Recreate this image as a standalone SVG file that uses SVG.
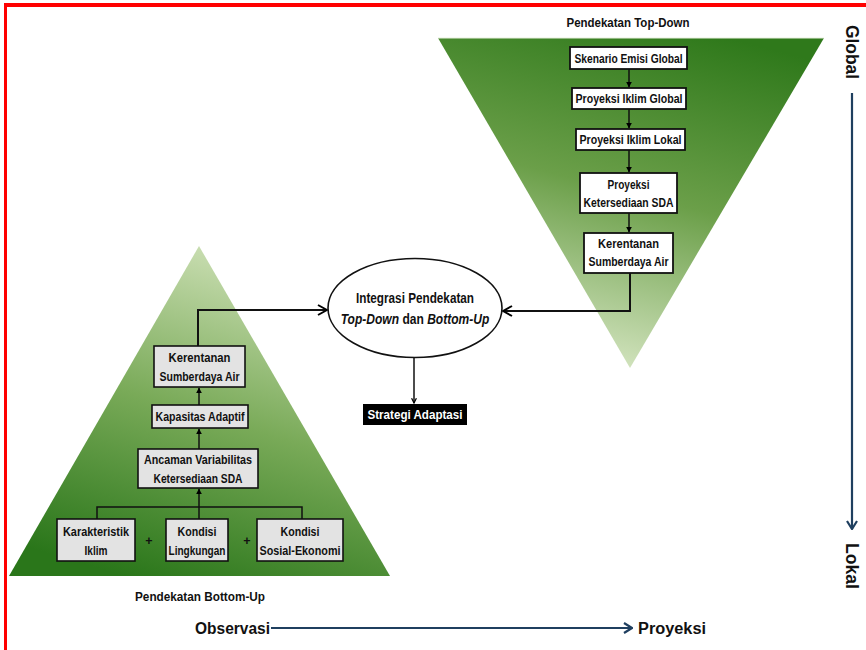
<svg xmlns="http://www.w3.org/2000/svg" width="866" height="650" viewBox="0 0 866 650">
  <defs>
    <linearGradient id="gTop" x1="0.75" y1="0" x2="0.45" y2="1">
      <stop offset="0" stop-color="#2f791b"/>
      <stop offset="0.5" stop-color="#6b9f49"/>
      <stop offset="1" stop-color="#d3e4bf"/>
    </linearGradient>
    <linearGradient id="gBottom" x1="0.65" y1="0" x2="0.3" y2="1">
      <stop offset="0" stop-color="#d0e2b9"/>
      <stop offset="0.5" stop-color="#79aa58"/>
      <stop offset="1" stop-color="#2a761a"/>
    </linearGradient>
    <marker id="tri" viewBox="0 0 10 10" refX="9" refY="5" markerWidth="4" markerHeight="4" orient="auto">
      <path d="M0,0 L10,5 L0,10 z" fill="#000"/>
    </marker>
    <marker id="vee" viewBox="0 0 10 10" refX="9" refY="5" markerWidth="6" markerHeight="6" orient="auto" markerUnits="userSpaceOnUse">
      <path d="M1,1 L9,5 L1,9" fill="none" stroke="#000" stroke-width="2"/>
    </marker>
    <marker id="veeBig" viewBox="0 0 12 12" refX="11" refY="6" markerWidth="12" markerHeight="12" orient="auto" markerUnits="userSpaceOnUse">
      <path d="M2,1 L11,6 L2,11" fill="none" stroke="#000" stroke-width="2"/>
    </marker>
    <marker id="veeAxis" viewBox="0 0 12 12" refX="11" refY="6" markerWidth="12" markerHeight="12" orient="auto" markerUnits="userSpaceOnUse">
      <path d="M3,1 L11,6 L3,11" fill="none" stroke="#1f3f5f" stroke-width="2.2"/>
    </marker>
  </defs>
  <style>
    .lbl { font-family: "Liberation Sans", Arial, sans-serif; font-weight: bold; font-size: 12.5px; text-anchor: middle; fill: #111; }
    .ell { font-family: "Liberation Sans", Arial, sans-serif; font-weight: bold; font-size: 14px; fill: #111; text-anchor: middle; }
    .title { font-family: "Liberation Sans", Arial, sans-serif; font-weight: bold; font-size: 13px; text-anchor: middle; fill: #111; }
    .axis { font-family: "Liberation Sans", Arial, sans-serif; font-weight: bold; font-size: 16px; fill: #111; }
    .axisV { font-family: "Liberation Sans", Arial, sans-serif; font-weight: bold; font-size: 18px; fill: #111; text-anchor: middle; }
    .boxW { fill: #ffffff; stroke: #111; stroke-width: 1.8; }
    .boxG { fill: #e3e3e3; stroke: #111; stroke-width: 1.6; }
    .link { fill: none; stroke: #111; stroke-width: 1.5; }
    .linkB { fill: none; stroke: #111; stroke-width: 2; }
    .axisLine { fill: none; stroke: #1f3f5f; stroke-width: 2.2; }
  </style>

  <!-- frame -->
  <rect x="4" y="3" width="862" height="4" fill="#ff0000"/>
  <rect x="4" y="3" width="3" height="647" fill="#ff0000"/>

  <!-- inverted triangle (top-down) -->
  <polygon id="tri-topdown" points="438,38 824,38 630,368" fill="url(#gTop)"/>
  <line x1="438" y1="38" x2="824" y2="38" stroke="#e8f0de" stroke-width="1"/>
  <!-- upright triangle (bottom-up) -->
  <polygon id="tri-bottomup" points="199,246 390,576 9,576" fill="url(#gBottom)"/>

  <text class="title" x="628" y="27" textLength="123" lengthAdjust="spacingAndGlyphs">Pendekatan Top-Down</text>
  <text class="title" x="200" y="601" textLength="130" lengthAdjust="spacingAndGlyphs">Pendekatan Bottom-Up</text>

  <!-- connectors -->
  <g id="connectors">
    <!-- top-down chain -->
    <line class="link" x1="629" y1="69" x2="629" y2="87" marker-end="url(#tri)"/>
    <line class="link" x1="629" y1="109" x2="629" y2="128" marker-end="url(#tri)"/>
    <line class="link" x1="629" y1="150" x2="629" y2="172" marker-end="url(#tri)"/>
    <line class="link" x1="629" y1="213" x2="629" y2="232" marker-end="url(#tri)"/>
    <!-- bottom-up chain -->
    <polyline class="link" points="97,519 97,507 302,507 302,519"/>
    <line class="link" x1="199" y1="519" x2="199" y2="489" marker-end="url(#tri)"/>
    <line class="link" x1="199" y1="449" x2="199" y2="429" marker-end="url(#tri)"/>
    <line class="link" x1="199" y1="405" x2="199" y2="388" marker-end="url(#tri)"/>
    <!-- into the integration ellipse -->
    <polyline class="linkB" points="198,346 198,310 327,310" marker-end="url(#veeBig)"/>
    <polyline class="linkB" points="630,273 630,311 503,311" marker-end="url(#veeBig)"/>
    <!-- out to strategy -->
    <line class="link" x1="414" y1="357" x2="414" y2="403" marker-end="url(#vee)"/>
    <!-- axes -->
    <line class="axisLine" x1="271" y1="628" x2="632" y2="628" marker-end="url(#veeAxis)"/>
    <line class="axisLine" x1="852" y1="93" x2="852" y2="529" marker-end="url(#veeAxis)"/>
  </g>

  <!-- top-down nodes -->
  <g id="skenario">
    <rect class="boxW" x="570" y="47" width="117" height="22"/>
    <text class="lbl" x="628.5" y="62.5" textLength="108" lengthAdjust="spacingAndGlyphs">Skenario Emisi Global</text>
  </g>
  <g id="iklim-global">
    <rect class="boxW" x="572" y="88" width="114" height="21"/>
    <text class="lbl" x="629" y="103" textLength="107" lengthAdjust="spacingAndGlyphs">Proyeksi Iklim Global</text>
  </g>
  <g id="iklim-lokal">
    <rect class="boxW" x="576" y="129" width="109" height="21"/>
    <text class="lbl" x="630.5" y="144" textLength="102" lengthAdjust="spacingAndGlyphs">Proyeksi Iklim Lokal</text>
  </g>
  <g id="ketersediaan">
    <rect class="boxW" x="580" y="173" width="97" height="40"/>
    <text class="lbl" x="628.5" y="189" textLength="42" lengthAdjust="spacingAndGlyphs">Proyeksi</text>
    <text class="lbl" x="628.5" y="207" textLength="90" lengthAdjust="spacingAndGlyphs">Ketersediaan SDA</text>
  </g>
  <g id="kerentanan-td">
    <rect class="boxW" x="584" y="233" width="89" height="40"/>
    <text class="lbl" x="628.5" y="248" textLength="61" lengthAdjust="spacingAndGlyphs">Kerentanan</text>
    <text class="lbl" x="628.5" y="266" textLength="80" lengthAdjust="spacingAndGlyphs">Sumberdaya Air</text>
  </g>

  <!-- integration node -->
  <g id="integrasi">
    <ellipse cx="415" cy="308" rx="87" ry="49.5" fill="#fff" stroke="#111" stroke-width="1.6"/>
    <text class="ell" x="415" y="303" textLength="118" lengthAdjust="spacingAndGlyphs">Integrasi Pendekatan</text>
    <text class="ell" transform="translate(415,324) scale(0.86,1)" x="0" y="0"><tspan font-style="italic">Top-Down</tspan> dan <tspan font-style="italic">Bottom-Up</tspan></text>
  </g>

  <g id="strategi">
    <rect x="363" y="404" width="104" height="21" fill="#000"/>
    <text class="lbl" x="415" y="419" style="fill:#fff" textLength="95" lengthAdjust="spacingAndGlyphs">Strategi Adaptasi</text>
  </g>

  <!-- bottom-up nodes -->
  <g id="kerentanan-bu">
    <rect class="boxG" x="154" y="346" width="91" height="41"/>
    <text class="lbl" x="199.5" y="362" textLength="62" lengthAdjust="spacingAndGlyphs">Kerentanan</text>
    <text class="lbl" x="199.5" y="381" textLength="80" lengthAdjust="spacingAndGlyphs">Sumberdaya Air</text>
  </g>
  <g id="kapasitas">
    <rect class="boxG" x="152" y="405" width="96" height="23"/>
    <text class="lbl" x="200" y="421" textLength="89" lengthAdjust="spacingAndGlyphs">Kapasitas Adaptif</text>
  </g>
  <g id="ancaman">
    <rect class="boxG" x="138" y="449" width="120" height="39"/>
    <text class="lbl" x="198" y="464" textLength="108" lengthAdjust="spacingAndGlyphs">Ancaman Variabilitas</text>
    <text class="lbl" x="198" y="483" textLength="89" lengthAdjust="spacingAndGlyphs">Ketersediaan SDA</text>
  </g>
  <g id="karakteristik">
    <rect class="boxG" x="57" y="519" width="78" height="42"/>
    <text class="lbl" x="96" y="536" textLength="66" lengthAdjust="spacingAndGlyphs">Karakteristik</text>
    <text class="lbl" x="96" y="555" textLength="23" lengthAdjust="spacingAndGlyphs">Iklim</text>
  </g>
  <g id="lingkungan">
    <rect class="boxG" x="166" y="519" width="62" height="42"/>
    <text class="lbl" x="197" y="536" textLength="39" lengthAdjust="spacingAndGlyphs">Kondisi</text>
    <text class="lbl" x="197" y="555" textLength="57" lengthAdjust="spacingAndGlyphs">Lingkungan</text>
  </g>
  <g id="sosial-ekonomi">
    <rect class="boxG" x="257" y="519" width="86" height="42"/>
    <text class="lbl" x="300" y="536" textLength="39" lengthAdjust="spacingAndGlyphs">Kondisi</text>
    <text class="lbl" x="300" y="555" textLength="81" lengthAdjust="spacingAndGlyphs">Sosial-Ekonomi</text>
  </g>
  <text class="lbl" x="149" y="545">+</text>
  <text class="lbl" x="247" y="545">+</text>

  <!-- axis labels -->
  <text class="axis" x="195" y="634" textLength="75" lengthAdjust="spacingAndGlyphs">Observasi</text>
  <text class="axis" x="638" y="634" textLength="68" lengthAdjust="spacingAndGlyphs">Proyeksi</text>
  <text class="axisV" transform="translate(846,52) rotate(90)" textLength="54" lengthAdjust="spacingAndGlyphs">Global</text>
  <text class="axisV" transform="translate(846,566) rotate(90)" textLength="46" lengthAdjust="spacingAndGlyphs">Lokal</text>
</svg>
